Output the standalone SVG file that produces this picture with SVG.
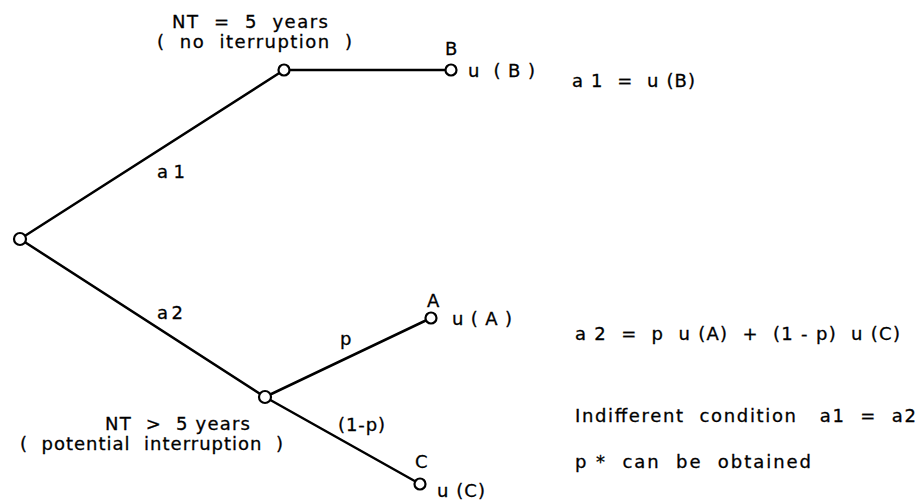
<svg xmlns="http://www.w3.org/2000/svg" width="921" height="504" viewBox="0 0 921 504">
<style>
.bg{fill:#ffffff}
.edge{stroke:#000;stroke-width:2.5;fill:none;stroke-linecap:round}
.node{fill:#fff;stroke:#000;stroke-width:2.2}
text{font-family:"DejaVu Sans","Liberation Sans",Arial,sans-serif;font-size:18px;fill:#000;stroke:#000;stroke-width:0.3}
</style>
<rect class="bg" x="0" y="0" width="921" height="504"/>
<g id="connectors">
<line class="edge" x1="20" y1="239" x2="284" y2="70"/>
<line class="edge" x1="284" y1="70" x2="451" y2="70"/>
<line class="edge" x1="20" y1="239" x2="265" y2="397"/>
<line class="edge" x1="265" y1="397" x2="431" y2="318"/>
<line class="edge" x1="265" y1="397" x2="420" y2="484"/>
<text x="157" y="178" textLength="28" lengthAdjust="spacing">a 1</text>
<text x="157" y="319" textLength="26" lengthAdjust="spacing">a2</text>
<text x="340" y="345">p</text>
<text x="338" y="431" textLength="47" lengthAdjust="spacing">(1-p)</text>
</g>
<g id="root">
<circle class="node" cx="20" cy="239" r="6"/>
</g>
<g id="chance-top">
<circle class="node" cx="284" cy="70" r="5.5"/>
<text x="172" y="28" textLength="156" lengthAdjust="spacing" xml:space="preserve">NT  =  5  years</text>
<text x="157" y="48" textLength="195" lengthAdjust="spacing" xml:space="preserve">(  no  iterruption  )</text>
</g>
<g id="outcome-B">
<circle class="node" cx="451" cy="70" r="5.5"/>
<text x="445" y="55">B</text>
<text x="468" y="77" textLength="67" lengthAdjust="spacing" xml:space="preserve">u  ( B )</text>
</g>
<g id="chance-bottom">
<circle class="node" cx="265" cy="397" r="6"/>
<text x="105" y="430" textLength="145" lengthAdjust="spacing" xml:space="preserve">NT  &gt;  5 years</text>
<text x="20" y="450" textLength="263" lengthAdjust="spacing" xml:space="preserve">(  potential  interruption  )</text>
</g>
<g id="outcome-A">
<circle class="node" cx="431" cy="318" r="5.5"/>
<text x="427" y="307">A</text>
<text x="452" y="325" textLength="60" lengthAdjust="spacing" xml:space="preserve">u ( A )</text>
</g>
<g id="outcome-C">
<circle class="node" cx="420" cy="484" r="5.5"/>
<text x="415" y="468">C</text>
<text x="437" y="497" textLength="48" lengthAdjust="spacing">u (C)</text>
</g>
<g id="equations">
<text x="572" y="87" textLength="123" lengthAdjust="spacing" xml:space="preserve">a 1  =  u (B)</text>
<text x="575" y="340" textLength="325" lengthAdjust="spacing" xml:space="preserve">a 2  =  p  u (A)  +  (1 - p)  u (C)</text>
<text x="575" y="422" textLength="341" lengthAdjust="spacing" xml:space="preserve">Indifferent  condition   a1  =  a2</text>
<text x="575" y="468" textLength="236" lengthAdjust="spacing" xml:space="preserve">p *  can  be  obtained</text>
</g>
</svg>
